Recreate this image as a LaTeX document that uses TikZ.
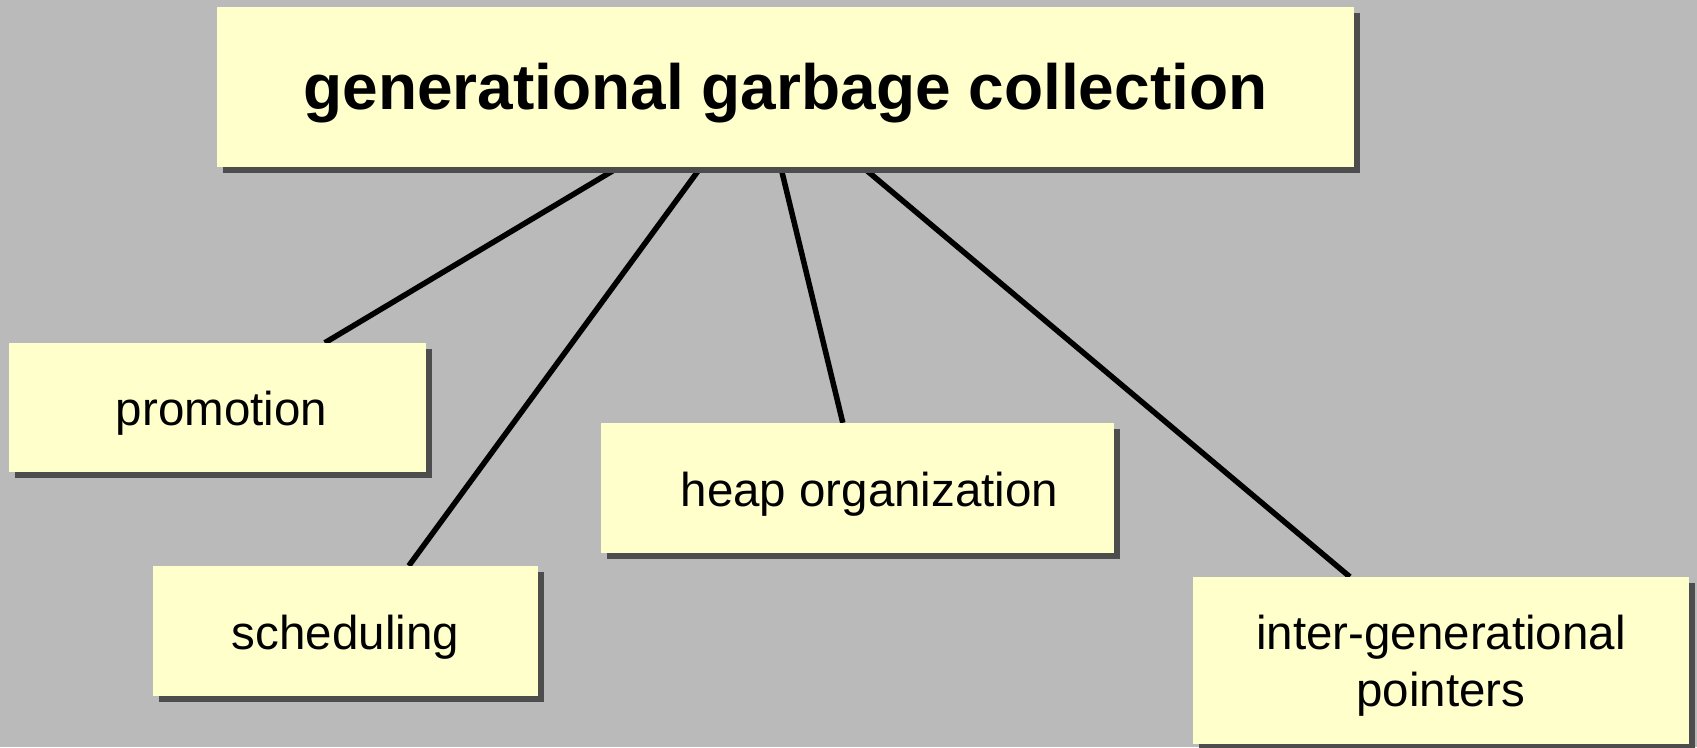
\documentclass[tikz,border=0pt]{standalone}
\usepackage{fontspec}
\setmainfont{Liberation Sans}
\usetikzlibrary{shadows}
\definecolor{slidebg}{HTML}{BABABA}
\definecolor{boxfill}{HTML}{FFFFCC}
\definecolor{boxshadow}{HTML}{4D4D4D}
\pgfdeclarelayer{back}
\pgfdeclarelayer{links}
\pgfsetlayers{back,links,main}
\tikzset{
  topicbox/.style={rectangle, fill=boxfill, inner sep=0pt,
    drop shadow={shadow xshift=6pt, shadow yshift=-6pt, fill=boxshadow, opacity=1}},
  subtext/.style={inner sep=0pt, align=center, font=\fontsize{47.5}{57}\selectfont},
  titletext/.style={inner sep=0pt, font=\fontsize{64}{76}\selectfont\bfseries},
  link/.style={line width=5.5pt, draw=black}
}
\begin{document}
\begin{tikzpicture}[x=1pt, y=-1pt]
\begin{pgfonlayer}{back}
  \fill[slidebg] (0,0) rectangle (1697,747);
\end{pgfonlayer}
\useasboundingbox (0,0) rectangle (1697,747);

% root and the four topic boxes
\node[topicbox, minimum width=1137pt, minimum height=160pt] (root) at (785.5,87) {};
\node[topicbox, minimum width=417pt, minimum height=129pt] (prom) at (217.5,407.5) {};
\node[topicbox, minimum width=385pt, minimum height=130pt] (sched) at (345.5,631) {};
\node[topicbox, minimum width=513pt, minimum height=130pt] (heap) at (857.5,488) {};
\node[topicbox, minimum width=496pt, minimum height=167pt] (inter) at (1441,660.5) {};

% box texts
\node[titletext] (roottext) at ([yshift=-6pt]root.center) {generational garbage collection};
\node[subtext] (promtext) at ([xshift=4pt, yshift=-6pt]prom.center) {promotion};
\node[subtext] (schedtext) at ([yshift=-6pt]sched.center) {scheduling};
\node[subtext] (heaptext) at ([xshift=12pt, yshift=-6pt]heap.center) {heap organization};
\node[subtext] (intertext) at ([yshift=-5pt]inter.center) {inter-generational\\pointers};

% connectors from the root to each topic
\begin{pgfonlayer}{links}
  \draw[link] ([xshift=402pt]root.south west) -- ([xshift=316pt]prom.north west);
  \draw[link] ([xshift=484pt]root.south west) -- ([xshift=256pt]sched.north west);
  \draw[link] ([xshift=564pt]root.south west) -- ([xshift=242pt]heap.north west);
  \draw[link] ([xshift=646pt]root.south west) -- ([xshift=157pt]inter.north west);
\end{pgfonlayer}
\end{tikzpicture}
\end{document}
